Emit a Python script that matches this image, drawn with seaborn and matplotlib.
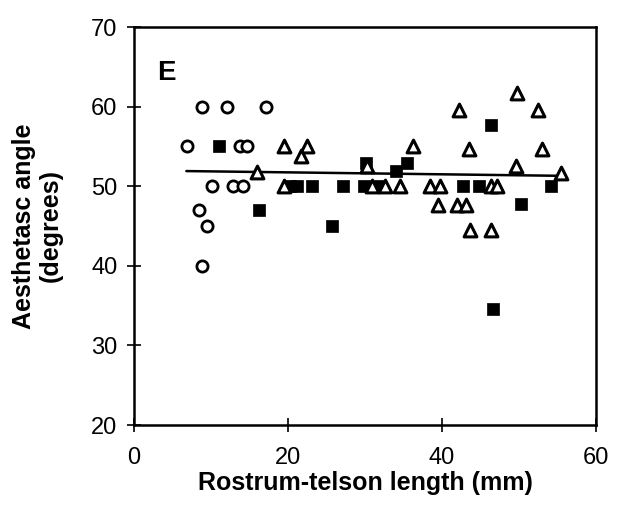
import matplotlib
matplotlib.use("Agg")
import matplotlib.pyplot as plt
import seaborn as sns
import pandas as pd

# --- data ---
circle_x = [8.8, 12.1, 17.1, 6.9, 13.8, 14.7, 10.1, 12.9, 14.2, 8.4, 9.5, 8.8]
circle_y = [60, 60, 60, 55, 55, 55, 50, 50, 50, 47, 45, 40]

square_x = [11.1, 16.2, 20.3, 21.2, 23.1, 27.2, 29.9, 31.9, 30.1, 34.0, 35.5, 25.7,
            42.7, 44.8, 46.3, 50.3, 54.1, 46.6]
square_y = [55, 47, 50, 50, 50, 50, 50, 50, 52.9, 51.9, 52.9, 45,
            50, 50, 57.7, 47.8, 50, 34.6]

tri_x = [16.0, 19.5, 19.5, 22.5, 21.7, 30.3, 36.2, 30.9, 32.6, 34.6, 38.4, 39.8,
         39.5, 42.0, 43.1, 43.7, 46.4, 42.2, 49.8, 52.5, 43.5, 53.0, 49.6, 55.4,
         46.4, 47.2]
tri_y = [51.8, 55, 50, 55, 53.8, 52.6, 55, 50, 50, 50, 50, 50,
         47.7, 47.7, 47.7, 44.5, 44.5, 59.6, 61.7, 59.6, 54.7, 54.7, 52.6, 51.7,
         50, 50]

trend_x = [6.8, 55.8]
trend_y = [51.9, 51.3]

x_ticks = [0, 20, 40, 60]
y_ticks = [20, 30, 40, 50, 60, 70]

sns.set_theme(style="ticks")
plt.rcParams['font.family'] = ['Liberation Sans', 'DejaVu Sans']
plt.rcParams['text.color'] = 'black'
plt.rcParams['axes.labelcolor'] = 'black'

fig = plt.figure(figsize=(6.21, 5.18), dpi=100)
ax = fig.add_axes([134/621, 1 - 425/518, (596 - 134)/621, (425 - 27)/518])

circles = pd.DataFrame({"x": circle_x, "y": circle_y})
squares = pd.DataFrame({"x": square_x, "y": square_y})
tris = pd.DataFrame({"x": tri_x, "y": tri_y})
trend = pd.DataFrame({"x": trend_x, "y": trend_y})

sns.lineplot(data=trend, x="x", y="y", ax=ax, color="black", linewidth=1.8)
sns.scatterplot(data=circles, x="x", y="y", ax=ax, marker="o", s=65,
                facecolor="white", edgecolor="black", linewidth=2.0, zorder=3)
sns.scatterplot(data=squares, x="x", y="y", ax=ax, marker="s", s=75,
                color="black", edgecolor="black", linewidth=0.5, zorder=3)
sns.scatterplot(data=tris, x="x", y="y", ax=ax, marker="^", s=85,
                facecolor="white", edgecolor="black", linewidth=2.2, zorder=4)

ax.set_xlim(0, 60)
ax.set_ylim(20, 70)
ax.set_xticks(x_ticks)
ax.set_yticks(y_ticks)
ax.tick_params(direction="inout", length=10, width=1.2, labelsize=17,
               colors="black", labelcolor="black")
ax.tick_params(axis="y", pad=7)
ax.tick_params(axis="x", pad=11)
for sp in ax.spines.values():
    sp.set_linewidth(1.8)
    sp.set_color("black")

ax.set_xlabel("Rostrum-telson length (mm)", fontsize=18, fontweight="bold", labelpad=1)
ax.set_ylabel("Aesthetasc angle\n(degrees)", fontsize=18, fontweight="bold", labelpad=20,
              linespacing=1.15)
ax.text(0.05, 0.885, "E", transform=ax.transAxes, fontsize=20, fontweight="bold",
        ha="left", va="center")

fig.savefig("out.png", dpi=100, facecolor="white")
